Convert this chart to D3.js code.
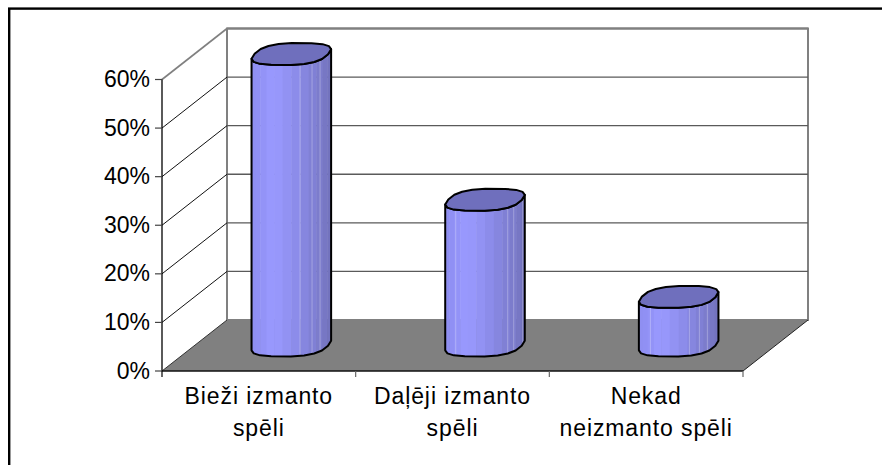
<!DOCTYPE html>
<html><head><meta charset="utf-8">
<script src="https://cdn.jsdelivr.net/npm/d3@7/dist/d3.min.js"></script>
<style>html,body{margin:0;padding:0;background:#fff;overflow:hidden}svg{display:block}</style>
</head><body><svg id="c" width="882" height="465"></svg>
<script>
const categories = [["Bieži izmanto","spēli"],["Daļēji izmanto","spēli"],["Nekad","neizmanto spēli"]];
const values = [60, 30, 10];
const tickValues = [0,10,20,30,40,50,60];

const svg = d3.select("#c");
const font = "Liberation Sans, Arial, sans-serif";
const y = d3.scaleLinear().domain([0,60]).range([371,79.5]);
const x = d3.scaleBand().domain(d3.range(categories.length)).range([162,743]);
const depth = {x:65, y:-51};
const [x0,x1] = x.range();
const yBase = y(0), yTop = y(60);

svg.append("rect").attr("x",9.2).attr("y",8.6).attr("width",890).attr("height",480)
  .attr("fill","#fff").attr("stroke","#000").attr("stroke-width",2.4);

// back wall
svg.append("rect").attr("x",x0+depth.x).attr("y",yTop+depth.y).attr("width",x1-x0).attr("height",yBase-yTop)
  .attr("fill","#fff").attr("stroke","#808080").attr("stroke-width",2);
tickValues.filter(t=>t>0).forEach(t=>{
  const top = t===60;
  svg.append("line").attr("x1",x0+depth.x).attr("x2",x1+depth.x)
    .attr("y1",y(t)+depth.y).attr("y2",y(t)+depth.y)
    .attr("stroke",top?"#808080":"#5a5a5a").attr("stroke-width",top?2:1.3);
  svg.append("line").attr("x1",x0).attr("x2",x0+depth.x)
    .attr("y1",y(t)).attr("y2",y(t)+depth.y)
    .attr("stroke",top?"#808080":"#111").attr("stroke-width",top?1.6:1);
});
// floor
svg.append("path").attr("fill","#808080")
  .attr("d",d3.line()([[x0,yBase],[x0+depth.x,yBase+depth.y],[x1+depth.x,yBase+depth.y],[x1,yBase]])+"Z");
svg.append("line").attr("x1",x1).attr("x2",x1+depth.x).attr("y1",yBase).attr("y2",yBase+depth.y).attr("stroke","#222");
svg.append("line").attr("x1",x0).attr("x2",x0+depth.x).attr("y1",yBase).attr("y2",yBase+depth.y).attr("stroke","#333");

// axes
svg.append("line").attr("x1",x0).attr("x2",x0).attr("y1",yTop).attr("y2",yBase).attr("stroke","#000").attr("stroke-width",1.3);
svg.append("line").attr("x1",x0).attr("x2",x1).attr("y1",yBase).attr("y2",yBase).attr("stroke","#111").attr("stroke-width",1.5);
tickValues.forEach(t=>{
  svg.append("line").attr("x1",x0-7).attr("x2",x0).attr("y1",y(t)).attr("y2",y(t)).attr("stroke","#444").attr("stroke-width",1.2);
  svg.append("text").attr("x",x0-12).attr("y",y(t)+7.5).attr("text-anchor","end")
    .attr("font-family",font).attr("font-size",23).attr("fill","#000").text(t+"%");
});
d3.range(categories.length+1).forEach(i=>{
  const tx = i<categories.length ? x(i) : x1;
  svg.append("line").attr("x1",tx).attr("x2",tx).attr("y1",yBase).attr("y2",yBase+6).attr("stroke",i===0?"#000":"#666").attr("stroke-width",1.2);
});
categories.forEach((lines,i)=>{
  const cx = x(i)+x.bandwidth()/2;
  lines.forEach((s,j)=>svg.append("text").attr("x",cx).attr("y",404+j*32)
    .attr("text-anchor","middle").attr("font-family",font).attr("font-size",23)
    .attr("letter-spacing",0.9).attr("fill","#000").text(s));
});

// cylinders: a rounded (superelliptic) faceted cross-section
const a=37, px=10, py=-11, pw=0.75, N=9;
const spow=c=>Math.sign(c)*Math.pow(Math.abs(c),pw);
const P=t=>[a*spow(Math.cos(t))+px*spow(Math.sin(t)), py*spow(Math.sin(t))];
const tStar=d3.range(0,1.5,.005)[d3.maxIndex(d3.range(0,1.5,.005),t=>P(t)[0])];
const R=P(tStar)[0];
const half=(cx,cy,from)=>d3.range(N+1).map(k=>{
  const p=P(from+k/N*Math.PI);
  return [cx+p[0], cy+p[1]];
});
const upper=(cx,cy)=>half(cx,cy,tStar);
const lower=(cx,cy)=>half(cx,cy,tStar+Math.PI);
const stops=[[0,"#8f8ff2"],[.06,"#9090f4"],[.22,"#9a9aff"],[.38,"#9292f4"],[.55,"#8a8ae6"],[.7,"#8181d6"],[.85,"#7a7ac9"],[1,"#6f6fb8"]];
const shade=d3.scaleLinear().domain(stops.map(d=>d[0])).range(stops.map(d=>d[1]));
const glints=[[48,60,68],[10,62,68,77],[11,50,60,68]];
const line=d3.line();
const defs=svg.append("defs");
values.forEach((v,i)=>{
  const cx=x(i)+x.bandwidth()/2+depth.x/2, by=y(0)+depth.y/2, ty=y(v)+depth.y/2;
  const topLower=lower(cx,ty), bottomLower=lower(cx,by);
  const body=line(topLower.concat(bottomLower.slice().reverse()))+"Z";
  defs.append("clipPath").attr("id","cyl"+i).append("path").attr("d",body);
  const g=svg.append("g");
  const strips=g.append("g").attr("clip-path",`url(#cyl${i})`);
  const n=14, xl=cx-R;
  d3.range(n).forEach(k=>{
    const A=cx-R*Math.cos(k/n*Math.PI), B=cx-R*Math.cos((k+1)/n*Math.PI);
    strips.append("rect").attr("x",A).attr("width",B-A+.5).attr("y",ty-15).attr("height",by-ty+30)
      .attr("fill",shade((A-xl)/(2*R)));
  });
  glints[i].forEach(o=>strips.append("rect").attr("x",xl+o).attr("width",1).attr("y",ty-15).attr("height",by-ty+30)
    .attr("fill","#fff").attr("opacity",.28));
  g.append("path").attr("d",body).attr("fill","none").attr("stroke","#000").attr("stroke-width",2).attr("stroke-linejoin","round");
  g.append("path").attr("d",line(upper(cx,ty).concat(topLower.slice(1,-1)))+"Z")
    .attr("fill","#6f6fbd").attr("stroke","#000").attr("stroke-width",2).attr("stroke-linejoin","round");
});
</script></body></html>
